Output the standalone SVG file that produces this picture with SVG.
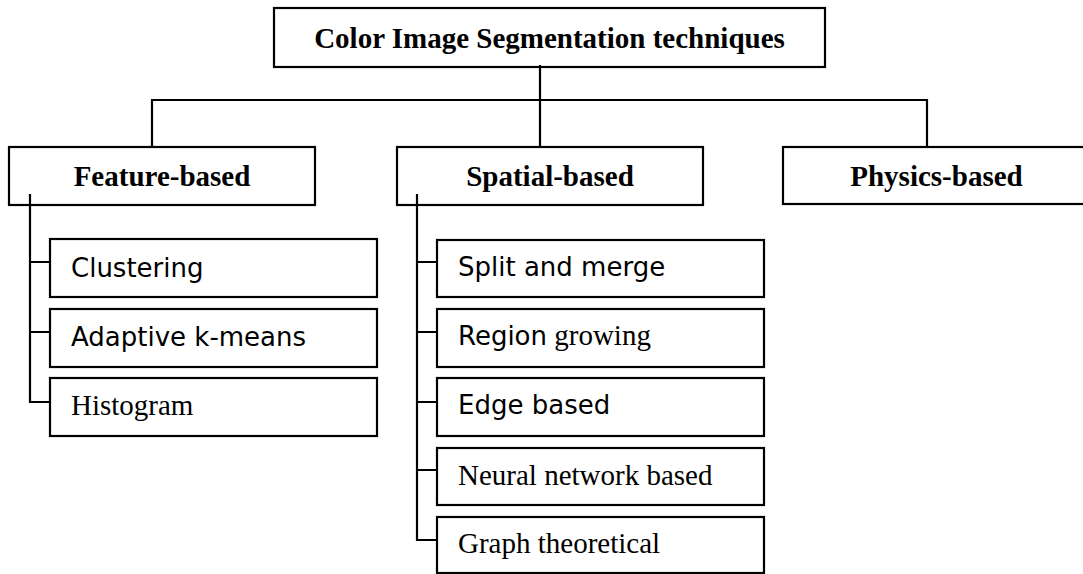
<svg xmlns="http://www.w3.org/2000/svg" width="1083" height="574" viewBox="0 0 1083 574">
<style>
.box{fill:#fff;stroke:#000;stroke-width:2.2}
.ln{fill:none;stroke:#000;stroke-width:2.2}
.hd{font-family:"Liberation Serif","Times New Roman",serif;font-weight:bold;font-size:29px;fill:#000}
.sr{font-family:"Liberation Serif","Times New Roman",serif;font-size:29px;fill:#000}
.ss{font-family:"DejaVu Sans",Verdana,sans-serif;font-size:26px;fill:#000}
</style>
<rect width="1083" height="574" fill="#fff"/>
<g id="connectors">
<path class="ln" d="M540,65 V147 M152,147 V100 H927 V147"/>
<path class="ln" d="M30,194 V402 H50 M30,262 H50 M30,332 H50"/>
<path class="ln" d="M417,194 V540 H437 M417,262 H437 M417,332 H437 M417,402 H437 M417,470 H437"/>
</g>
<g id="root">
<rect class="box" x="274" y="8" width="551" height="59"/>
<text class="hd" x="549.5" y="48" text-anchor="middle">Color Image Segmentation techniques</text>
</g>
<g id="feature">
<rect class="box" x="9" y="147" width="306" height="58"/>
<text class="hd" x="162" y="186" text-anchor="middle">Feature-based</text>
</g>
<g id="spatial">
<rect class="box" x="397" y="147" width="306" height="58"/>
<text class="hd" x="550" y="186" text-anchor="middle">Spatial-based</text>
</g>
<g id="physics">
<rect class="box" x="783" y="147" width="320" height="57"/>
<text class="hd" x="936.5" y="186" text-anchor="middle">Physics-based</text>
</g>
<g id="connector-stubs">
<path class="ln" d="M30,194 V205 M417,194 V205 M540,65 V67"/>
</g>
<g id="clustering">
<rect class="box" x="50" y="239" width="327" height="58"/>
<text class="ss" x="71" y="277">Clustering</text>
</g>
<g id="adaptive">
<rect class="box" x="50" y="309" width="327" height="58"/>
<text class="ss" x="71" y="346">Adaptive k-means</text>
</g>
<g id="histogram">
<rect class="box" x="50" y="378" width="327" height="58"/>
<text class="sr" x="71" y="415">Histogram</text>
</g>
<g id="split">
<rect class="box" x="437" y="240" width="327" height="57"/>
<text class="ss" x="458" y="276">Split and merge</text>
</g>
<g id="region">
<rect class="box" x="437" y="309" width="327" height="58"/>
<text x="458" y="345"><tspan class="ss">Region</tspan><tspan class="sr"> growing</tspan></text>
</g>
<g id="edge">
<rect class="box" x="437" y="378" width="327" height="58"/>
<text class="ss" x="458" y="414">Edge based</text>
</g>
<g id="neural">
<rect class="box" x="437" y="448" width="327" height="57"/>
<text class="sr" x="458" y="485">Neural network based</text>
</g>
<g id="graph">
<rect class="box" x="437" y="517" width="327" height="56"/>
<text class="sr" x="458" y="553">Graph theoretical</text>
</g>
</svg>
